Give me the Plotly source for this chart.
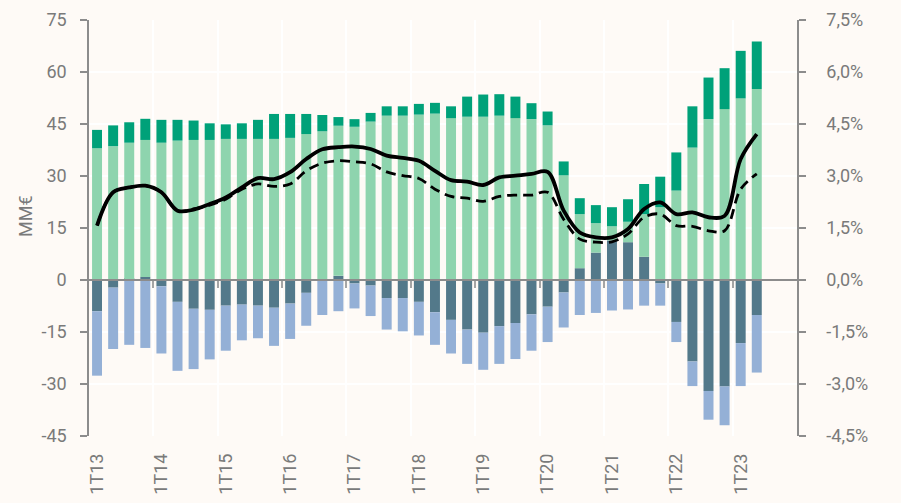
import plotly.graph_objects as go

quarters = [
    "1T13", "2T13", "3T13", "4T13", "1T14", "2T14", "3T14", "4T14",
    "1T15", "2T15", "3T15", "4T15", "1T16", "2T16", "3T16", "4T16",
    "1T17", "2T17", "3T17", "4T17", "1T18", "2T18", "3T18", "4T18",
    "1T19", "2T19", "3T19", "4T19", "1T20", "2T20", "3T20", "4T20",
    "1T21", "2T21", "3T21", "4T21", "1T22", "2T22", "3T22", "4T22",
    "1T23", "2T23",
]
extra_quarters = ["3T23", "4T23"]

slate = [-9.0, -2.2, 0.3, 0.9, -1.8, -6.3, -8.3, -8.6, -7.4, -7.1, -7.4, -8.0, -6.8, -3.7,
         0.0, 1.2, -1.0, -1.6, -5.2, -5.2, -6.3, -9.3, -11.5, -14.3, -15.2, -13.3, -12.4, -9.9,
         -7.7, -3.6, 3.4, 7.9, 11.4, 10.9, 6.7, -1.0, -12.1, -23.5, -32.0, -30.7, -18.2, -10.1]
light_blue = [-18.6, -17.7, -18.7, -19.6, -19.4, -19.9, -17.4, -14.3, -13.0, -10.3, -9.4, -11.0, -10.2, -9.5,
              -10.1, -9.0, -7.2, -8.8, -9.1, -9.6, -9.7, -9.4, -9.7, -9.9, -10.7, -10.9, -10.4, -10.5,
              -10.2, -10.1, -10.1, -9.5, -8.8, -8.5, -7.4, -6.4, -5.8, -7.1, -8.3, -11.2, -12.4, -16.6]
light_green = [38.0, 38.6, 39.3, 39.5, 39.6, 40.2, 40.4, 40.4, 40.7, 40.7, 40.7, 40.7, 41.0, 42.1,
               42.9, 43.3, 44.2, 45.7, 47.4, 47.4, 47.7, 48.0, 46.7, 47.1, 47.1, 47.4, 46.7, 46.4,
               44.6, 30.2, 15.6, 8.5, 4.1, 5.9, 12.3, 21.0, 25.8, 38.2, 46.4, 49.3, 52.4, 55.1]
dark_green = [5.3, 6.0, 5.9, 6.1, 6.6, 6.0, 5.6, 4.8, 4.2, 4.5, 5.5, 7.2, 6.9, 5.8,
              4.7, 2.5, 2.2, 2.5, 2.7, 2.7, 3.1, 3.1, 3.4, 5.8, 6.4, 6.2, 6.2, 4.6,
              4.0, 4.0, 4.6, 5.2, 5.5, 6.5, 8.7, 8.8, 11.0, 11.9, 12.0, 11.8, 13.7, 13.7]

solid_pct = [1.57, 2.53, 2.67, 2.72, 2.53, 2.0, 2.03, 2.19, 2.38, 2.67, 2.94, 2.91, 3.11, 3.49,
             3.77, 3.83, 3.85, 3.78, 3.59, 3.52, 3.44, 3.15, 2.88, 2.84, 2.74, 2.96, 3.01, 3.06,
             3.12, 2.0, 1.37, 1.23, 1.23, 1.47, 2.05, 2.24, 1.90, 1.95, 1.81, 1.85, 3.49, 4.21]
dashed_pct = [1.57, 2.53, 2.67, 2.72, 2.53, 2.0, 2.05, 2.16, 2.33, 2.62, 2.77, 2.70, 2.77, 3.15,
              3.37, 3.44, 3.41, 3.35, 3.12, 3.01, 2.93, 2.62, 2.41, 2.36, 2.27, 2.41, 2.45, 2.45,
              2.53, 1.75, 1.18, 1.09, 1.10, 1.33, 1.81, 1.90, 1.57, 1.55, 1.42, 1.42, 2.62, 3.06]

x_tick_labels = ["1T13", "1T14", "1T15", "1T16", "1T17", "1T18", "1T19", "1T20", "1T21", "1T22", "1T23"]
year_bounds = [3.5, 7.5, 11.5, 15.5, 19.5, 23.5, 27.5, 31.5, 35.5, 39.5]
y_left_vals = [-45, -30, -15, 0, 15, 30, 45, 60, 75]
y_left_text = ["-45", "-30", "-15", "0", "15", "30", "45", "60", "75"]
y_right_vals = [-4.5, -3.0, -1.5, 0.0, 1.5, 3.0, 4.5, 6.0, 7.5]
y_right_text = ["-4,5%", "-3,0%", "-1,5%", "0,0%", "1,5%", "3,0%", "4,5%", "6,0%", "7,5%"]

C_SLATE = "#53798A"
C_LBLUE = "#94B0D6"
C_LGREEN = "#8ED4AE"
C_DGREEN = "#00A179"
BG = "#FEFAF6"
AXIS = "#8C8C8C"
TXT = "#7A7A7A"
FONT = "Roboto"

fig = go.Figure()
for vals, col in [(slate, C_SLATE), (light_blue, C_LBLUE), (light_green, C_LGREEN), (dark_green, C_DGREEN)]:
    fig.add_trace(go.Bar(x=quarters, y=vals, marker=dict(color=col, line=dict(width=0)),
                         showlegend=False, hoverinfo="skip"))

fig.add_trace(go.Scatter(x=quarters, y=dashed_pct, yaxis="y2", mode="lines",
                         line=dict(color="black", width=2.8, dash="10px,6px", shape="spline", smoothing=1.0),
                         showlegend=False))
fig.add_trace(go.Scatter(x=quarters, y=solid_pct, yaxis="y2", mode="lines",
                         line=dict(color="black", width=3.8, shape="spline", smoothing=1.0),
                         showlegend=False))
# helper trace so the overlay axis (zero line with year ticks) is drawn
fig.add_trace(go.Scatter(x=[], y=[], xaxis="x2", yaxis="y", showlegend=False))

fig.update_layout(
    width=901, height=503,
    margin=dict(l=89, r=104, t=20, b=67, autoexpand=False),
    paper_bgcolor=BG, plot_bgcolor=BG,
    barmode="relative", bargap=0.38,
    font=dict(family=FONT, size=18, color=TXT),
    showlegend=False,
    xaxis=dict(
        type="category", categoryorder="array", categoryarray=quarters + extra_quarters,
        range=[-0.5, 43.5], tickmode="array", tickvals=x_tick_labels, ticktext=x_tick_labels,
        tickangle=-90, ticks="", showline=False, showgrid=False, zeroline=False,
        ticklabelstandoff=13, tickfont=dict(size=18, color=TXT), automargin=False,
    ),
    xaxis2=dict(
        type="linear", overlaying="x", anchor="free", position=0.375, side="bottom",
        range=[-0.5, 43.5], tickmode="array", tickvals=year_bounds, ticktext=[""] * len(year_bounds),
        showticklabels=False, ticks="outside", ticklen=7, tickwidth=1.5, tickcolor="#A5A5A5",
        showline=True, linecolor=AXIS, linewidth=1.5, layer="above traces",
        showgrid=True, gridcolor="#FFFFFF", gridwidth=1.5, zeroline=False, automargin=False,
    ),
    yaxis=dict(
        range=[-45, 75], tickmode="array", tickvals=y_left_vals, ticktext=y_left_text,
        ticks="outside", ticklen=7, tickwidth=1.5, tickcolor=AXIS,
        showline=True, linecolor=AXIS, linewidth=1.5,
        showgrid=True, gridcolor="#FFFFFF", gridwidth=1.5, zeroline=False,
        ticklabelstandoff=10, automargin=False,
    ),
    yaxis2=dict(
        overlaying="y", side="right", range=[-4.5, 7.5],
        tickmode="array", tickvals=y_right_vals, ticktext=y_right_text,
        ticks="outside", ticklen=7, tickwidth=1.5, tickcolor=AXIS,
        showline=True, linecolor=AXIS, linewidth=1.5,
        showgrid=False, zeroline=False, ticklabelstandoff=17, automargin=False,
    ),
    annotations=[dict(text="MM€", xref="paper", yref="paper", x=(25 - 89) / 708, y=(436 - 216) / 416,
                      xanchor="center", yanchor="middle", textangle=-90, showarrow=False,
                      font=dict(family=FONT, size=18, color=TXT))],
)

fig.write_html(
    "out.html",
    config={"displayModeBar": False},
    post_script="document.body.style.margin='0';document.body.style.background='" + BG + "';",
)
